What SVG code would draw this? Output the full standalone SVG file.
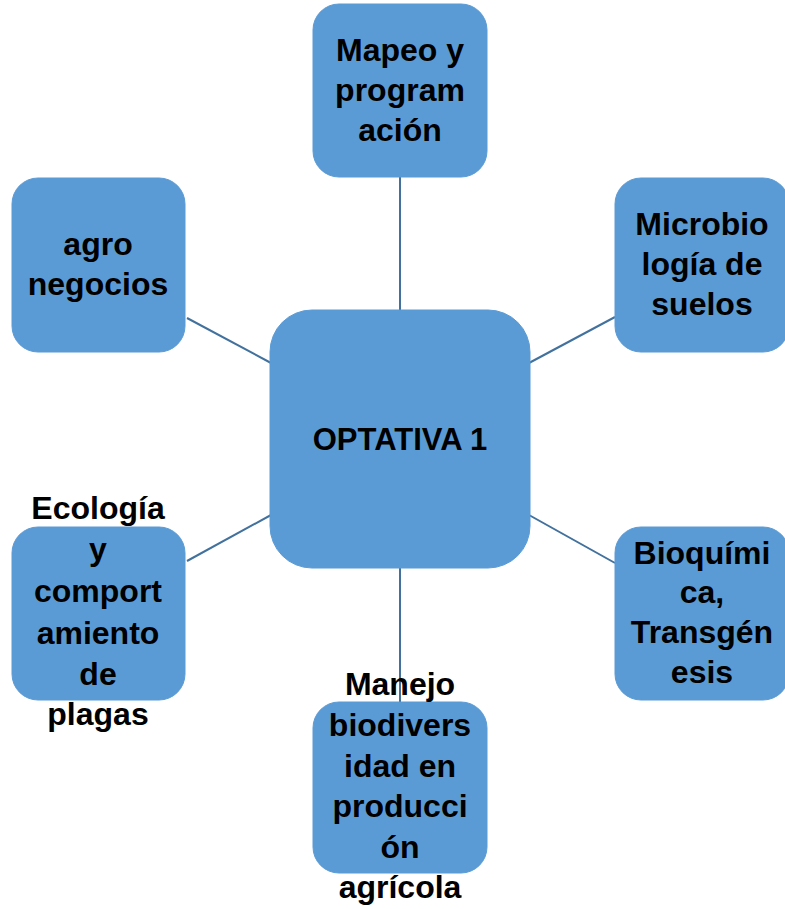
<svg xmlns="http://www.w3.org/2000/svg" width="785" height="909" viewBox="0 0 785 909">
<style>
.n{fill:#5B9BD5;stroke:#5B9BD5;stroke-width:1}
.t{font-family:"Liberation Sans",Arial,sans-serif;font-weight:bold;font-size:32px;fill:#000;text-anchor:middle}
.c{stroke:#41719C;stroke-width:2;fill:none}
</style>
<rect width="785" height="909" fill="#fff"/>
<g id="connectors">
<line class="c" x1="400" y1="177" x2="400" y2="310"/>
<line class="c" x1="187" y1="318" x2="271" y2="363"/>
<line class="c" x1="529" y1="363" x2="615" y2="317"/>
<line class="c" x1="187" y1="561" x2="271" y2="515"/>
<line class="c" x1="529" y1="515" x2="615" y2="563"/>
<line class="c" x1="400" y1="568" x2="400" y2="702"/>
</g>
<g id="center">
<rect class="n" x="270" y="310" width="260" height="258" rx="42"/>
<text class="t" x="400" y="450" style="font-size:31px">OPTATIVA 1</text>
</g>
<g id="mapeo">
<rect class="n" x="313" y="4" width="174" height="173" rx="26"/>
<text class="t" x="400" y="61">Mapeo y</text>
<text class="t" x="400" y="101">program</text>
<text class="t" x="400" y="141">ación</text>
</g>
<g id="agronegocios">
<rect class="n" x="12" y="178" width="173" height="174" rx="26"/>
<text class="t" x="98" y="255">agro</text>
<text class="t" x="98" y="295">negocios</text>
</g>
<g id="microbiologia">
<rect class="n" x="615" y="178" width="174" height="174" rx="26"/>
<text class="t" x="702" y="235">Microbio</text>
<text class="t" x="702" y="275">logía de</text>
<text class="t" x="702" y="315">suelos</text>
</g>
<g id="ecologia">
<rect class="n" x="12" y="527" width="173" height="173" rx="26"/>
<text class="t" x="98" y="519">Ecología</text>
<text class="t" x="98" y="560">y</text>
<text class="t" x="98" y="602">comport</text>
<text class="t" x="98" y="644">amiento</text>
<text class="t" x="98" y="685">de</text>
<text class="t" x="98" y="725">plagas</text>
</g>
<g id="bioquimica">
<rect class="n" x="615" y="527" width="174" height="173" rx="26"/>
<text class="t" x="702" y="564">Bioquími</text>
<text class="t" x="702" y="603">ca,</text>
<text class="t" x="702" y="643">Transgén</text>
<text class="t" x="702" y="683">esis</text>
</g>
<g id="manejo">
<rect class="n" x="313" y="702" width="174" height="171" rx="26"/>
<text class="t" x="400" y="695">Manejo</text>
<text class="t" x="400" y="736">biodivers</text>
<text class="t" x="400" y="777">idad en</text>
<text class="t" x="400" y="817">producci</text>
<text class="t" x="400" y="858">ón</text>
<text class="t" x="400" y="898">agrícola</text>
</g>
</svg>
